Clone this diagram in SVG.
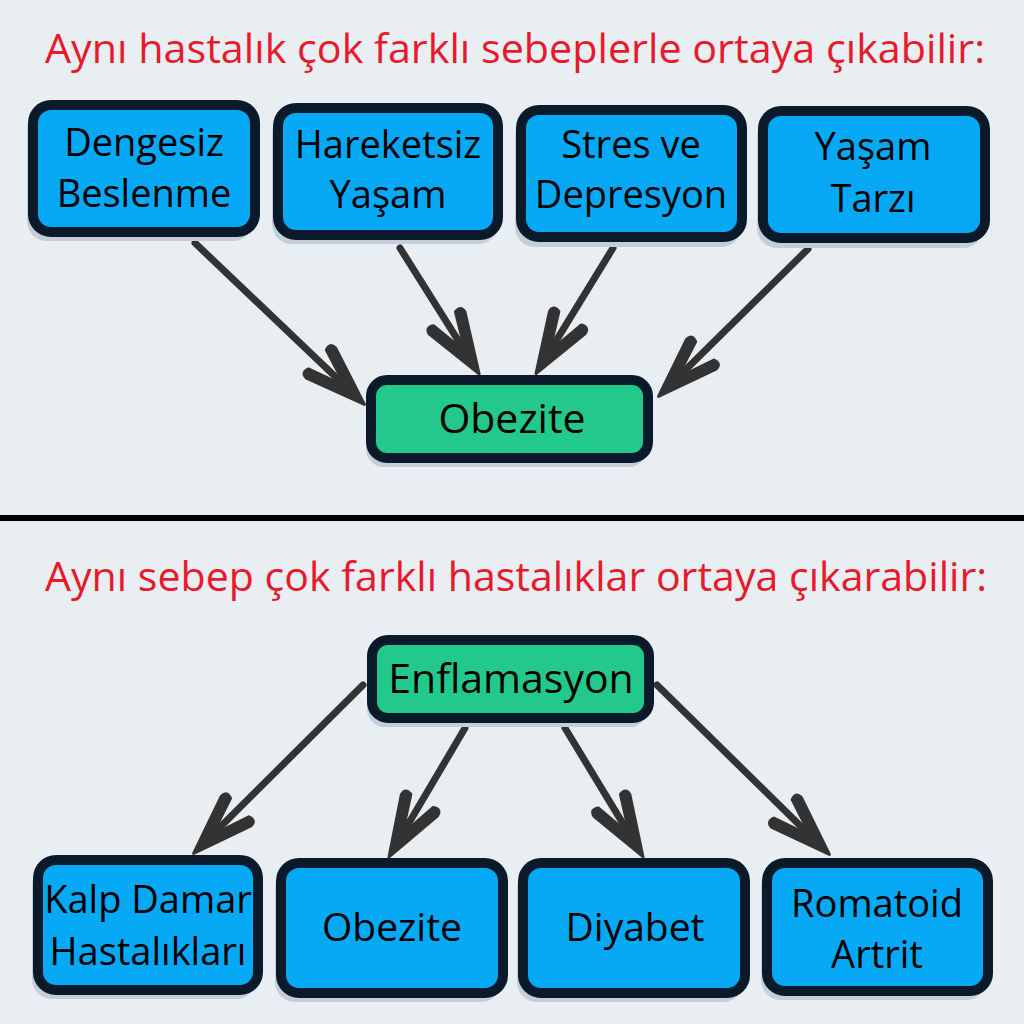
<svg xmlns="http://www.w3.org/2000/svg" width="1024" height="1024" viewBox="0 0 1024 1024">
<style>
.title{font-family:"Open Sans","Noto Sans",sans-serif;font-size:40px;fill:#E8192A;text-anchor:middle}
.lbl{font-family:"Open Sans","Noto Sans",sans-serif;font-size:38px;fill:#000;text-anchor:middle}
.big{font-size:41px}
.mid{font-size:39px}
.box{stroke:#0B1A2B;stroke-width:10}
.blue{fill:#07A9F5}
.green{fill:#23C98A}
.shadow{fill:#C3CED8}
.conn{stroke:#333333;stroke-width:7;fill:none;stroke-linecap:round}
</style>
<defs>
<marker id="ah" markerUnits="userSpaceOnUse" viewBox="-80 -30 90 60" markerWidth="90" markerHeight="60" refX="-20" refY="0" orient="auto" overflow="visible">
<path d="M2,0 L-58,-21 Q-66,-21 -63,-13 L-24,0 L-63,13 Q-66,21 -58,21 Z" fill="#333333" stroke="#333333" stroke-width="3" stroke-linejoin="round"/>
</marker>
</defs>
<rect width="1024" height="1024" fill="#E9EEF2"/>
<rect x="0" y="515" width="1024" height="6" fill="#000"/>
<text class="title" x="515" y="63" textLength="940" lengthAdjust="spacingAndGlyphs">Aynı hastalık çok farklı sebeplerle ortaya çıkabilir:</text>
<text class="title" x="516" y="591" textLength="942" lengthAdjust="spacingAndGlyphs">Aynı sebep çok farklı hastalıklar ortaya çıkarabilir:</text>
<g id="connectors">
<line class="conn" x1="195" y1="243" x2="348.5" y2="389.2" marker-end="url(#ah)"/>
<line class="conn" x1="400" y1="248" x2="467.4" y2="355.1" marker-end="url(#ah)"/>
<line class="conn" x1="613" y1="248" x2="547.5" y2="354.9" marker-end="url(#ah)"/>
<line class="conn" x1="808" y1="249" x2="674.2" y2="381.0" marker-end="url(#ah)"/>
<line class="conn" x1="363" y1="685" x2="209.2" y2="837.9" marker-end="url(#ah)"/>
<line class="conn" x1="465" y1="728" x2="400.2" y2="837.8" marker-end="url(#ah)"/>
<line class="conn" x1="565" y1="728" x2="631.6" y2="837.9" marker-end="url(#ah)"/>
<line class="conn" x1="657" y1="685" x2="813.7" y2="839.0" marker-end="url(#ah)"/>
</g>
<g id="n-dengesiz">
<rect class="shadow" x="27" y="110" width="226" height="131" rx="20"/>
<rect class="box blue" x="33" y="105" width="222" height="127" rx="18"/>
<text class="lbl" x="144" y="156">Dengesiz</text>
<text class="lbl" x="144" y="207">Beslenme</text>
</g>
<g id="n-hareketsiz">
<rect class="shadow" x="272" y="113" width="226" height="131" rx="20"/>
<rect class="box blue" x="278" y="108" width="220" height="127" rx="18"/>
<text class="lbl" x="388" y="158">Hareketsiz</text>
<text class="lbl" x="388" y="208">Yaşam</text>
</g>
<g id="n-stres">
<rect class="shadow" x="515" y="115" width="226" height="132" rx="20"/>
<rect class="box blue" x="521" y="110" width="221" height="127" rx="18"/>
<text class="lbl" x="631" y="158">Stres ve</text>
<text class="lbl" x="631" y="208">Depresyon</text>
</g>
<g id="n-yasam">
<rect class="shadow" x="757" y="116" width="226" height="132" rx="20"/>
<rect class="box blue" x="763" y="111" width="222" height="127" rx="18"/>
<text class="lbl" x="873" y="160">Yaşam</text>
<text class="lbl" x="873" y="212">Tarzı</text>
</g>
<g id="n-obezite-top">
<rect class="shadow" x="366" y="385" width="281" height="82" rx="18"/>
<rect class="box green" x="371" y="380" width="277" height="78" rx="16"/>
<text class="lbl big" x="512" y="433">Obezite</text>
</g>
<g id="n-enflamasyon">
<rect class="shadow" x="367" y="645" width="281" height="82" rx="18"/>
<rect class="box green" x="372" y="640" width="277" height="78" rx="16"/>
<text class="lbl big" x="511" y="693">Enflamasyon</text>
</g>
<g id="n-kalp">
<rect class="shadow" x="32" y="865" width="224" height="134" rx="20"/>
<rect class="box blue" x="38" y="860" width="220" height="130" rx="18"/>
<text class="lbl" x="148" y="913">Kalp Damar</text>
<text class="lbl" x="148" y="965">Hastalıkları</text>
</g>
<g id="n-obezite-bottom">
<rect class="shadow" x="275" y="868" width="226" height="134" rx="20"/>
<rect class="box blue" x="281" y="863" width="222" height="130" rx="18"/>
<text class="lbl mid" x="392" y="941">Obezite</text>
</g>
<g id="n-diyabet">
<rect class="shadow" x="517" y="868" width="226" height="134" rx="20"/>
<rect class="box blue" x="523" y="863" width="222" height="130" rx="18"/>
<text class="lbl mid" x="635" y="941">Diyabet</text>
</g>
<g id="n-romatoid">
<rect class="shadow" x="761" y="868" width="225" height="132" rx="20"/>
<rect class="box blue" x="767" y="863" width="221" height="128" rx="18"/>
<text class="lbl" x="877" y="917">Romatoid</text>
<text class="lbl" x="877" y="968">Artrit</text>
</g>
</svg>
